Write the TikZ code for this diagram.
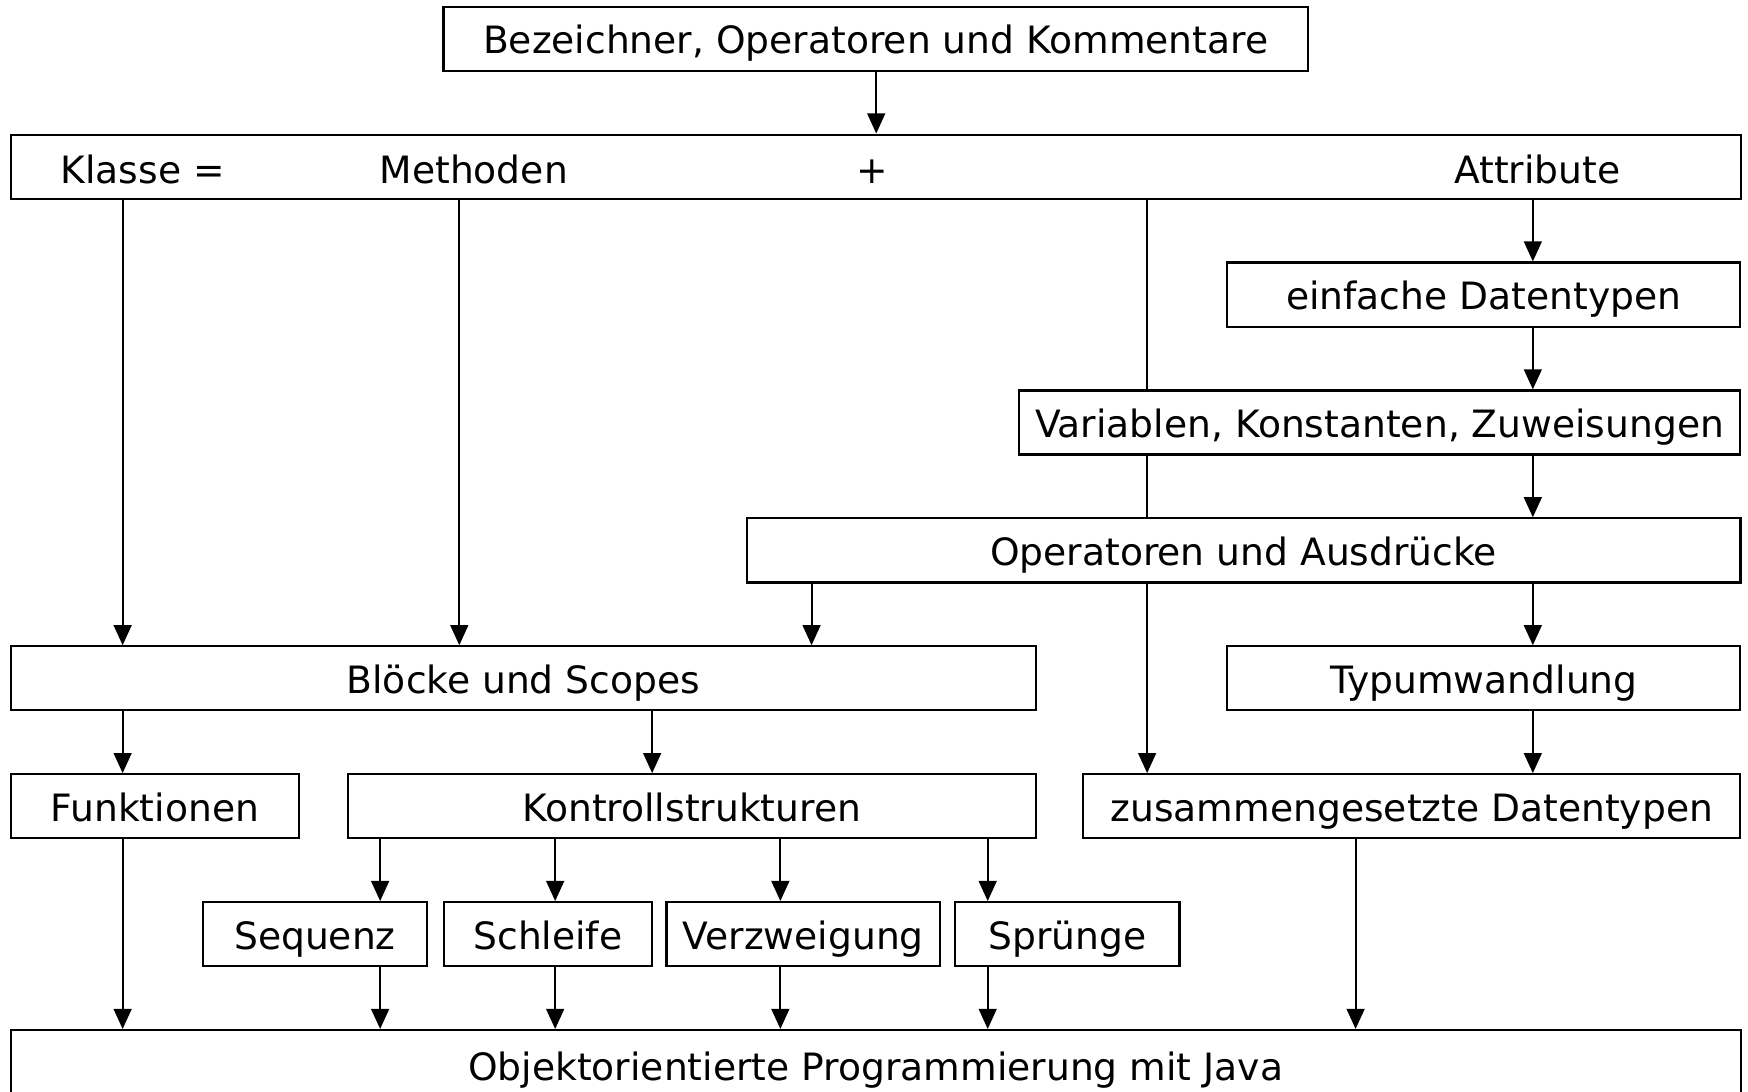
\documentclass[tikz,border=0pt]{standalone}
\usepackage{fontspec}
\setmainfont{DejaVu Sans}
\usetikzlibrary{arrows.meta,backgrounds}

\begin{document}
\begin{tikzpicture}[x=0.01cm,y=-0.01cm,
  box/.style={draw=black,line width=0.55pt,fill=white,inner sep=0pt,
    minimum height=0.575cm,font=\fontsize{9.6}{11}\selectfont,
    text height=1.75ex,text depth=0.35ex},
  lbl/.style={inner sep=0pt,font=\fontsize{9.6}{11}\selectfont,
    text height=1.75ex,text depth=0.35ex},
  arr/.style={line width=0.5pt,-{Triangle[length=0.18cm,width=0.16cm]}},
  ln/.style={line width=0.5pt}]

\useasboundingbox (0,0) rectangle (1568,979);

% column positions of the connectors
\coordinate (cA) at (110,0);
\coordinate (cB) at (341,0);
\coordinate (cC) at (412,0);
\coordinate (cD) at (498,0);
\coordinate (cE) at (585,0);
\coordinate (cF) at (700,0);
\coordinate (cG) at (728,0);
\coordinate (cH) at (786,0);
\coordinate (cI) at (886,0);
\coordinate (cJ) at (1029,0);
\coordinate (cK) at (1216,0);
\coordinate (cL) at (1375,0);

% boxes, row by row
\node[box,minimum width=7.75cm]  (bez)  at (785.5,34.75)   {Bezeichner, Operatoren und Kommentare};
\node[box,minimum width=15.51cm] (klasse) at (785.5,149.5) {};
\node[lbl] (tklasse) at (128,151)  {Klasse =};
\node[lbl] (tmeth)   at (425,151)  {Methoden};
\node[lbl] (tplus)   at (782,151)  {+};
\node[lbl] (tattr)   at (1379,151) {Attribute};

\node[box,minimum width=4.60cm]  (einf) at (1331,264.25)   {einfache Datentypen};
\node[box,minimum width=6.47cm]  (var)  at (1237.5,379)    {Variablen, Konstanten, Zuweisungen};
\node[box,minimum width=8.91cm]  (ops)  at (1115.5,493.75) {Operatoren und Ausdrücke};

\node[box,minimum width=9.19cm]  (bloecke) at (469.5,608.5) {Blöcke und Scopes};
\node[box,minimum width=4.60cm]  (typ)     at (1331,608.5)  {Typumwandlung};

\node[box,minimum width=2.58cm]  (funk)  at (139,723.25)    {Funktionen};
\node[box,minimum width=6.17cm]  (kontr) at (620.5,723.25)  {Kontrollstrukturen};
\node[box,minimum width=5.89cm]  (zus)   at (1266.5,723.25) {zusammengesetzte Datentypen};

\node[box,minimum width=2.01cm]  (seq)  at (282.5,838)  {Sequenz};
\node[box,minimum width=1.87cm]  (schl) at (491.5,838)  {Schleife};
\node[box,minimum width=2.45cm]  (verz) at (720.5,838)  {Verzweigung};
\node[box,minimum width=2.01cm]  (spr)  at (957.5,838)  {Sprünge};

\node[box,minimum width=15.51cm,minimum height=0.64cm] (oop) at (785.5,956) {Objektorientierte Programmierung mit Java};

% connectors, kept behind the white boxes
\begin{pgfonlayer}{background}
\draw[arr] (bez.south -| cH) -- (klasse.north -| cH);
\draw[arr] (klasse.south -| cA) -- (bloecke.north -| cA);
\draw[arr] (klasse.south -| cC) -- (bloecke.north -| cC);
\draw[arr] (klasse.south -| cJ) -- (zus.north -| cJ);
\draw[arr] (klasse.south -| cL) -- (einf.north -| cL);
\draw[arr] (einf.south -| cL) -- (var.north -| cL);
\draw[arr] (var.south -| cL) -- (ops.north -| cL);
\draw[arr] (ops.south -| cG) -- (bloecke.north -| cG);
\draw[arr] (ops.south -| cL) -- (typ.north -| cL);
\draw[arr] (bloecke.south -| cA) -- (funk.north -| cA);
\draw[arr] (bloecke.south -| cE) -- (kontr.north -| cE);
\draw[arr] (typ.south -| cL) -- (zus.north -| cL);
\draw[arr] (kontr.south -| cB) -- (seq.north -| cB);
\draw[arr] (kontr.south -| cD) -- (schl.north -| cD);
\draw[arr] (kontr.south -| cF) -- (verz.north -| cF);
\draw[arr] (kontr.south -| cI) -- (spr.north -| cI);
\draw[arr] (funk.south -| cA) -- (oop.north -| cA);
\draw[arr] (seq.south -| cB) -- (oop.north -| cB);
\draw[arr] (schl.south -| cD) -- (oop.north -| cD);
\draw[arr] (verz.south -| cF) -- (oop.north -| cF);
\draw[arr] (spr.south -| cI) -- (oop.north -| cI);
\draw[arr] (zus.south -| cK) -- (oop.north -| cK);
\end{pgfonlayer}
\end{tikzpicture}
\end{document}
